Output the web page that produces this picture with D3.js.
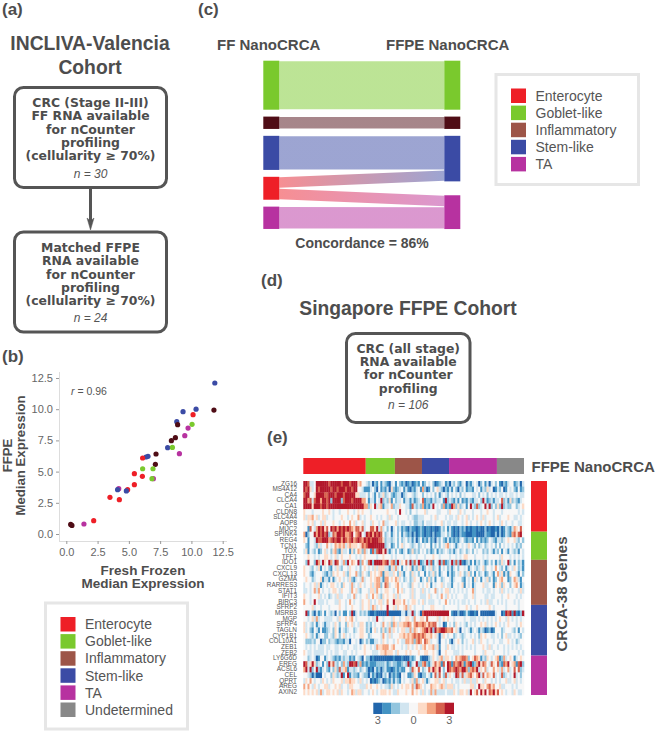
<!DOCTYPE html>
<html>
<head>
<meta charset="utf-8">
<title>NanoCRCA figure</title>
<style>
body { margin: 0; background: #fff; }
svg { display: block; }
text { font-family: "Liberation Sans", Arial, sans-serif; fill: #4d4d4d; }
.panel { font-size: 17px; font-weight: bold; }
.title { font-size: 19.3px; font-weight: bold; text-anchor: middle; }
.boxtext { font-family: "DejaVu Sans", sans-serif; font-size: 12.4px; font-weight: bold; text-anchor: middle; }
.ntext { font-size: 12px; font-style: italic; text-anchor: middle; fill: #555; }
.head { font-size: 15px; font-weight: bold; }
.legend { font-size: 14px; fill: #555; }
.axis text { font-size: 11px; fill: #666; }
.axis line, .axis path { stroke: #ddd; }
.axis .tick line { stroke: #999; }
.gene { font-size: 6.4px; text-anchor: end; fill: #555; }
</style>
</head>
<body>
<svg id="fig" width="657" height="731"></svg>
<script src="https://d3js.org/d3.v7.min.js"></script>
<script>

var subtypes = ["Enterocyte", "Goblet-like", "Inflammatory", "Stem-like", "TA", "Undetermined"];
var subtypeColors = ["#ee1f27", "#7ac92d", "#9d5548", "#3b4ba5", "#b732a0", "#888888"];
// the scatter and the flow diagram draw inflammatory darker than the legend does
var markColors = ["#ee1f27", "#7ac92d", "#4f0d16", "#3b4ba5", "#b732a0", "#888888"];

// (b) scatter
var axisTicks = [0, 2.5, 5, 7.5, 10, 12.5];
var ffMedian = [4.19, 11.87, 11.8, 10.37, 9.33, 10.13, 8.83, 8.9, 10.05, 9.73, 9.47, 8.72, 8.4, 8.1, 8.48, 9.04, 7.17, 6.53, 6.37, 6.1, 7.12, 6.1, 6.93, 5.44, 6.08, 6.96, 6.85, 5.44, 4.1, 4.9, 4.8, 3.49, 4.24, 2.19, 1.41, 0.35, 0.45];
var ffpeMedian = [3.63, 12.1, 9.93, 10.0, 9.8, 9.56, 9.0, 8.76, 8.79, 8.49, 7.88, 7.72, 7.48, 6.92, 6.94, 6.44, 6.41, 6.22, 6.17, 6.09, 5.58, 5.23, 5.23, 4.83, 4.62, 4.43, 4.43, 3.95, 3.55, 3.55, 3.45, 2.94, 2.75, 1.07, 0.8, 0.77, 0.69];
var scatterType = [4, 3, 2, 3, 3, 0, 3, 2, 1, 4, 4, 2, 2, 3, 1, 4, 2, 3, 3, 0, 2, 1, 1, 0, 0, 4, 1, 0, 3, 0, 3, 0, 0, 0, 4, 2, 2];

// (c) flows, in patients
var flowFrom = [1, 2, 3, 0, 0, 4];
var flowTo = [1, 2, 3, 3, 4, 4];
var flowSize = [8.34, 2.1, 5.8, 1.95, 1.95, 3.8];
var leftOrder = [1, 2, 3, 0, 4];
var rightOrder = [1, 2, 3, 4];

// (e) heatmap, one digit per cell, 0 = -3 ... 4 = 0 ... 8 = +3
var colCounts = [30, 14, 13, 13, 23, 13];
var rowCounts = [9, 5, 8, 9, 7];
var genes = ["ZG16", "MS4A12", "CA4", "CLCA4", "CA1", "CLDN8", "SLC4A4", "AQP8", "MUC2", "SPINK4", "REG4", "TCN1", "TOX", "TFF1", "IDO1", "CXCL9", "CXCL13", "GZMA", "RARRES3", "STAT1", "IFIT3", "BIRC3", "SFRP2", "MSRB3", "MGP", "SFRP4", "TAGLN", "CYP1B1", "COL10A1", "ZEB1", "ZEB2", "LY6G6D", "EREG", "ACSL6", "CEL", "QPRT", "AREG", "AXIN2"];
var cells = [
  "8873348888 8878888878 8878885644 3230214132 1034142120 1201214124 3420123412 0324213402 1343024130 3424102134 412303",
  "8785348788 8887887888 7887884431 1134204121 3052123413 1021341620 1424532021 3142032412 2143413253 4013240143 421412",
  "7884458888 7788878887 8888855333 4243142352 3421233023 4432344243 4342413432 4343424344 4334243424 3434334343 343433",
  "8867378868 8782888827 8887888866 4133143823 2514233413 3131234712 2132334182 3213141213 2133428312 3133472315 232134",
  "8888588878 8788888888 8888888886 6254835613 3462335443 3173232612 1384342612 1862523414 8327234838 2425282322 442345",
  "5444344445 4454344344 4544345454 4434444444 5444348443 4244344453 4444334443 5444354344 4344434454 4344434444 444343",
  "5355645345 5344344454 4345446343 4454434344 3534434444 3432233344 4345344434 3343543453 4345435344 4345344454 433434",
  "4454534453 5444544345 4464534453 4435443463 3444534334 4342233243 3343445343 3433443454 3443454345 4344354344 344334",
  "4417436878 5748786878 7876577573 4477583634 2403423121 0211012101 1010013241 3101021201 0110100201 0010201321 365474",
  "6024486878 7823768878 6678467843 8786878742 3413424132 1202012101 1020113342 3101021100 0110000211 0020201321 675784",
  "5414438778 8867878868 7678678768 7878887752 3323424234 2313024121 3120324213 1212134212 2141312124 3213323454 453242",
  "4214432534 4643465656 3565554576 7888888882 3412424534 4323423434 4142424356 3431343435 4324234234 3424243434 342324",
  "3514324124 5342562153 3415246526 3417278858 3134242134 1252324342 3124132343 2313423423 4243442324 3132414314 323143",
  "4454434344 5543453454 4454434345 4444434454 4434344434 4344344434 4454434444 3443434554 4434443434 4444354443 434343",
  "4284428638 5486387436 2846548264 3782888867 8367283547 3827381238 2714382712 3827281023 1413243124 2413253482 414231",
  "5443243514 3421435324 4354434245 4343535553 3153634143 4513253124 3523414342 3134244341 3432345244 3464324134 354231",
  "5442134443 2132545445 3254463254 3254545615 5335425314 4253424414 2352413441 3124354235 2414234124 3146351315 443142",
  "4544234451 3314134543 4352134363 4454566316 6454653423 4235441342 5241442344 3134442143 4153414352 4124564412 465314",
  "3443453513 4345543425 4436343543 4453566247 6344564344 3254434345 4143445343 3144345143 4134445334 4154525442 456413",
  "3343463643 4434554354 4436453244 4355364345 5443464534 4353443534 3446343455 3434343434 4634443433 4344353434 344353",
  "5443444534 3423435334 4334634344 5346453254 5445353444 4353443334 5344346435 4343444334 4534444334 3344434454 443434",
  "6443484333 4344433544 3464344354 4534345534 6448555464 3455434534 3334434464 3434343343 4434434353 3443434344 434344",
  "4444534434 4434444544 3445444354 4536534544 8445354456 3543444344 4554444344 4444344454 3445444445 4344444344 444344",
  "4814203124 1432304241 1428034232 3100100000 8000000330 3382430788 8888888888 4100200131 0010400000 0034401878 181028",
  "4434536344 3333443544 5456434444 4343384434 4435443445 5436445547 4444534545 4434444344 3334343434 3434544354 343434",
  "5343241343 1334354244 2545343554 2324344364 3526535566 7646766765 7677434014 3425434324 3434454534 3454343454 443454",
  "5342143141 1234254143 2344234554 2314534252 3635434553 3636545678 6828678876 6745304343 1343132012 0144423444 324143",
  "4543241344 2243254245 3434344554 4234444364 3534445565 6567676765 5645303543 4423432344 3434254544 3343424533 434324",
  "4222324402 2423321221 3304434024 2311334354 3443454336 6562676476 5344304434 2034542434 4534354434 4344334454 342344",
  "4343434333 4334433434 4344334345 4434365566 6456444343 5434543564 5563514435 4334343434 3434445435 3443443434 343434",
  "5433433333 4343433443 3443434445 4443334556 5554354445 4544454455 4454304454 4433343444 4434443544 4344443434 444343",
  "4423430144 1343212132 3312143204 2201000000 0001000100 0212441000 2354356355 4346567762 4576513254 3456126345 413454",
  "8735852341 4285732426 3288782612 1211122223 1232211232 8134822672 1357561748 7176786167 8126857643 7547217684 561782",
  "6838248213 4214252735 6133234234 2010312023 1101212114 4275474234 7586584248 7678768862 6768354634 4645363463 474723",
  "4432020004 3442532381 4813221432 2031201032 4021210434 1125410224 3147374273 5438737356 7546837465 4734372343 483424",
  "3546434435 4343544453 5565543534 3401012301 2131321434 4352634531 3445534534 4343343533 5335443544 3434344533 453434",
  "6464354344 5534454534 4355444333 5454454343 3253434545 5463765434 4655456535 5534344444 5534855467 5644533444 343444",
  "5454545363 4554545354 4346535534 4345434555 4543354445 4464543534 3636333343 3354355453 8457485847 6857454344 354334"
];
var heatColors = d3.schemeRdBu[9].slice().reverse();
var scaleLabels = ["3", "0", "3"];

var svg = d3.select("#fig");

function lines(g, list, x, y0, dy, cls) {
  g.selectAll(null).data(list).enter().append("text")
    .attr("class", cls)
    .attr("x", x)
    .attr("y", function(d, i) { return y0 + i * dy; })
    .text(function(d) { return d; });
}

function flowBox(x, y, w, h, list, nLabel, firstBase, nBase) {
  svg.append("rect")
    .attr("x", x).attr("y", y).attr("width", w).attr("height", h)
    .attr("rx", 9)
    .attr("fill", "#fff").attr("stroke", "#555").attr("stroke-width", 3);
  lines(svg, list, x + w / 2, firstBase, 13.3, "boxtext");
  svg.append("text").attr("class", "ntext").attr("x", x + w / 2).attr("y", nBase).text(nLabel);
}

function legend(x, y, w, h, count) {
  svg.append("rect")
    .attr("x", x).attr("y", y).attr("width", w).attr("height", h)
    .attr("fill", "#fff").attr("stroke", "#e6e6e6").attr("stroke-width", 3);
  var row = svg.selectAll(null).data(subtypes.slice(0, count)).enter().append("g")
    .attr("transform", function(d, i) { return "translate(" + (x + 15) + "," + (y + 14 + i * 17.1) + ")"; });
  row.append("rect")
    .attr("width", 15).attr("height", 14.5)
    .attr("fill", function(d, i) { return subtypeColors[i]; });
  row.append("text")
    .attr("class", "legend")
    .attr("x", 24.5).attr("y", 12.2)
    .text(function(d) { return d; });
}

// panel letters
var panels = [["(a)", 2, 15], ["(b)", 2, 362], ["(c)", 198, 15], ["(d)", 261, 286], ["(e)", 267, 443]];
svg.selectAll(null).data(panels).enter().append("text")
  .attr("class", "panel")
  .attr("x", function(d) { return d[1]; })
  .attr("y", function(d) { return d[2]; })
  .text(function(d) { return d[0]; });

// (a)
lines(svg, ["INCLIVA-Valencia", "Cohort"], 90, 50, 23.5, "title");
flowBox(14.5, 87.5, 152, 100, ["CRC (Stage II-III)", "FF RNA available", "for nCounter", "profiling", "(cellularity \u2265 70%)"], "n = 30", 107, 177.5);
flowBox(14.5, 232, 152, 100, ["Matched FFPE", "RNA available", "for nCounter", "profiling", "(cellularity \u2265 70%)"], "n = 24", 252, 322);
svg.append("line")
  .attr("x1", 90.5).attr("x2", 90.5).attr("y1", 188).attr("y2", 222)
  .attr("stroke", "#555").attr("stroke-width", 3);
svg.append("path")
  .attr("d", "M87 218L90.5 221L94 218L90.5 230Z")
  .attr("fill", "#555").attr("stroke", "#555").attr("stroke-width", 0.5);

// (b)
var x = d3.scaleLinear().domain([0, 12.5]).range([66.3, 222.7]);
var y = d3.scaleLinear().domain([0, 12.5]).range([534, 378]);

svg.append("g")
  .attr("class", "axis")
  .attr("transform", "translate(0,541)")
  .call(d3.axisBottom(x).tickValues(axisTicks).tickFormat(d3.format(".1f")).tickSizeInner(3).tickSizeOuter(0).tickPadding(4))
  .call(function(g) { g.select(".domain").attr("d", "M59,0.5H227"); });
svg.append("g")
  .attr("class", "axis")
  .attr("transform", "translate(59,0)")
  .call(d3.axisLeft(y).tickValues(axisTicks).tickFormat(d3.format(".1f")).tickSizeInner(3).tickSizeOuter(0).tickPadding(3))
  .call(function(g) { g.select(".domain").attr("d", "M0.5,372V541"); });

svg.append("g").selectAll("circle")
  .data(ffMedian)
  .enter().append("circle")
  .attr("cx", function(d) { return x(d); })
  .attr("cy", function(d, i) { return y(ffpeMedian[i]); })
  .attr("r", 2.6)
  .attr("fill", function(d, i) { return markColors[scatterType[i]]; });

svg.append("text")
  .attr("x", 71).attr("y", 395)
  .attr("font-size", 10.5).style("fill", "#555")
  .html('<tspan font-style="italic">r</tspan> = 0.96');

var xTitle = svg.append("g");
lines(xTitle, ["Fresh Frozen", "Median Expression"], 143, 574.5, 13.3, "head");
xTitle.selectAll("text").style("font-size", "13.5px").style("text-anchor", "middle");
var yTitle = svg.append("g").attr("transform", "translate(12,455.5) rotate(-90)");
lines(yTitle, ["FFPE", "Median Expression"], 0, 0, 13, "head");
yTitle.selectAll("text").style("font-size", "13.2px").style("text-anchor", "middle");

legend(45.5, 603, 142, 126, 6);

// (c)
var defs = svg.append("defs");
var band = d3.scaleLinear().domain([0, 24]).range([0, 141]);
var leftGap = 6.9, rightGaps = [6.9, 6.9, 13.9];
var nodeTop = 60.7;

function stack(order, key, gaps) {
  var pos = nodeTop, out = {};
  order.forEach(function(type, i) {
    var total = d3.sum(flowSize.filter(function(v, k) { return key[k] === type; }));
    out[type] = {y0: pos, y1: pos + band(total)};
    pos += band(total) + gaps(i);
  });
  return out;
}
var leftNodes = stack(leftOrder, flowFrom, function() { return leftGap; });
var rightNodes = stack(rightOrder, flowTo, function(i) { return rightGaps[i]; });

var sankeyX = {left: 263.3, right: 444.3, nodeW: 16};
var usedLeft = {}, usedRight = {};
flowSize.forEach(function(v, i) {
  var a = flowFrom[i], b = flowTo[i], h = band(v);
  var sy = leftNodes[a].y0 + (usedLeft[a] || 0);
  var ty = rightNodes[b].y0 + (usedRight[b] || 0);
  usedLeft[a] = (usedLeft[a] || 0) + h;
  usedRight[b] = (usedRight[b] || 0) + h;
  var x0 = sankeyX.left + sankeyX.nodeW, x1 = sankeyX.right;
  var grad = defs.append("linearGradient").attr("id", "flow" + i)
    .attr("gradientUnits", "userSpaceOnUse")
    .attr("x1", x0).attr("x2", x1).attr("y1", 0).attr("y2", 0);
  grad.append("stop").attr("offset", 0).attr("stop-color", markColors[a]);
  grad.append("stop").attr("offset", 1).attr("stop-color", markColors[b]);
  // the bands run almost straight in the reference
  var p = d3.path();
  p.moveTo(x0, sy + 0.5);
  p.lineTo(x1, ty + 0.5);
  p.lineTo(x1, ty + h - 0.5);
  p.lineTo(x0, sy + h - 0.5);
  p.closePath();
  svg.append("path").attr("d", p.toString()).attr("fill", "url(#flow" + i + ")").attr("fill-opacity", 0.5);
});

function drawNodes(nodes, order, nx) {
  svg.append("g").selectAll("rect").data(order).enter().append("rect")
    .attr("x", nx).attr("width", sankeyX.nodeW)
    .attr("y", function(d) { return nodes[d].y0; })
    .attr("height", function(d) { return nodes[d].y1 - nodes[d].y0; })
    .attr("fill", function(d) { return markColors[d]; });
}
drawNodes(leftNodes, leftOrder, sankeyX.left);
drawNodes(rightNodes, rightOrder, sankeyX.right);

svg.append("text").attr("class", "head").attr("x", 217).attr("y", 50).text("FF NanoCRCA");
svg.append("text").attr("class", "head").attr("x", 386).attr("y", 50).text("FFPE NanoCRCA");
svg.append("text").attr("class", "head").attr("x", 362).attr("y", 248)
  .style("font-size", "14px").style("text-anchor", "middle").text("Concordance = 86%");

legend(496, 74.5, 142.5, 110, 5);

// (d)
svg.append("text").attr("class", "title").attr("x", 408).attr("y", 314.7).text("Singapore FFPE Cohort");
flowBox(346.5, 333.5, 123.5, 89, ["CRC (all stage)", "RNA available", "for nCounter", "profiling"], "n = 106", 352.7, 409.3);

// (e)
var colX = d3.scaleBand().domain(d3.range(106)).range([303.3, 524]);
var rowY = d3.scaleBand().domain(d3.range(genes.length)).range([481, 695]);

var heat = svg.append("g").style("filter", "blur(0.45px)");
cells.forEach(function(row, r) {
  var digits = row.replace(/ /g, "").split("");
  heat.append("g").selectAll("rect")
    .data(digits)
    .enter().append("rect")
    .attr("x", function(d, c) { return colX(c); })
    .attr("y", rowY(r))
    .attr("width", colX.bandwidth() + 0.3)
    .attr("height", rowY.bandwidth() + 0.3)
    .attr("fill", function(d) { return heatColors[+d]; });
});

lines(svg, genes, 297, 485.6, rowY.step(), "gene");

var colStart = 0, rowStart = 0;
colCounts.forEach(function(n, i) {
  svg.append("rect")
    .attr("x", colX(colStart)).attr("y", 458)
    .attr("width", colX.step() * n).attr("height", 16)
    .attr("fill", subtypeColors[i]);
  colStart += n;
});
rowCounts.forEach(function(n, i) {
  svg.append("rect")
    .attr("x", 531).attr("y", rowY(rowStart))
    .attr("width", 16).attr("height", rowY.step() * n)
    .attr("fill", subtypeColors[i]);
  rowStart += n;
});

svg.append("text").attr("class", "head").attr("x", 531.5).attr("y", 472).text("FFPE NanoCRCA");
svg.append("text").attr("class", "head")
  .attr("transform", "translate(566.5,594) rotate(-90)")
  .style("text-anchor", "middle")
  .text("CRCA-38 Genes");

var scaleX = d3.scaleBand().domain(d3.range(9)).range([373.3, 453.7]);
svg.append("g").selectAll("rect").data(heatColors).enter().append("rect")
  .attr("x", function(d, i) { return scaleX(i); })
  .attr("y", 702.7)
  .attr("width", scaleX.bandwidth() + 0.3)
  .attr("height", 11.3)
  .attr("fill", function(d) { return d; });
var scalePos = [0, 4, 8];
svg.selectAll(null).data(scaleLabels).enter().append("text")
  .attr("x", function(d, i) { return scaleX(scalePos[i]) + scaleX.bandwidth() / 2; })
  .attr("y", 724)
  .attr("text-anchor", "middle")
  .attr("font-size", 11)
  .style("fill", "#666")
  .text(function(d) { return d; });

</script>
</body>
</html>
